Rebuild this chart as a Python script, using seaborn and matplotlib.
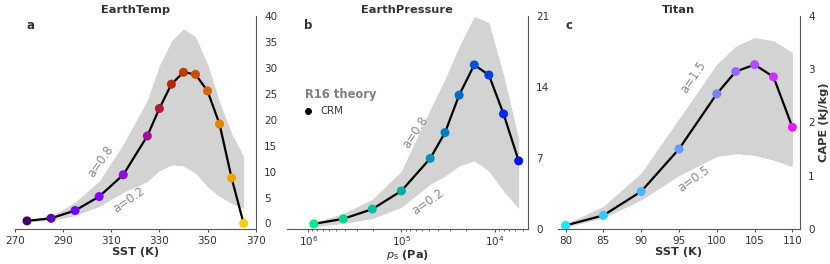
import numpy as np
import matplotlib
matplotlib.use("Agg")
import matplotlib.pyplot as plt
from matplotlib.lines import Line2D
import seaborn as sns

# ─────────────────────────────────────────────
# data
# ─────────────────────────────────────────────

# a: EarthTemp
sst_a = [275, 285, 295, 305, 315, 325, 330, 335, 340, 345, 350, 355, 360, 365]
cape_a = [0.5, 1.0, 2.5, 5.2, 9.4, 16.9, 22.2, 26.9, 29.2, 28.8, 25.6, 19.2, 8.8, 0.0]
hi_a = [0.5, 1.35, 4.1, 8.2, 15.3, 23.8, 30.5, 35.2, 37.6, 36.1, 30.8, 23.5, 17.4, 13.0]
lo_a = [0.3, 0.6, 1.5, 3.3, 6.0, 8.1, 10.2, 11.3, 11.1, 9.7, 7.1, 5.2, 3.9, 2.9]

# b: EarthPressure
ps_b = [870000, 420000, 205000, 100000, 49000, 34000, 24000, 16500, 11500, 8000, 5500]
cape_b = [0.47, 0.97, 1.93, 3.73, 6.95, 9.5, 13.2, 16.2, 15.2, 11.35, 6.7]
hi_b = [0.6, 1.5, 2.9, 5.7, 11.8, 14.8, 18.0, 21.0, 20.4, 15.2, 8.9]
lo_b = [0.2, 0.5, 1.0, 2.1, 4.4, 5.2, 6.2, 6.7, 5.7, 3.7, 2.0]

# c: Titan
sst_c = [80, 85, 90, 95, 100, 102.5, 105, 107.5, 110]
cape_c = [0.06, 0.25, 0.70, 1.50, 2.54, 2.96, 3.09, 2.86, 1.91]
hi_c = [0.09, 0.42, 1.05, 2.07, 3.1, 3.44, 3.6, 3.54, 3.32]
lo_c = [0.03, 0.2, 0.54, 1.0, 1.36, 1.41, 1.38, 1.29, 1.17]

TXT = "#333333"
SHADE = "#d3d3d3"
ANNOT = "#8a8a8a"

sns.set_style("ticks")
plt.rcParams["font.family"] = ["DejaVu Sans"]
plt.rcParams.update({
    "axes.edgecolor": "#555555",
    "xtick.color": "#555555",
    "ytick.color": "#555555",
    "xtick.labelcolor": TXT,
    "ytick.labelcolor": TXT,
    "xtick.labelsize": 7.5,
    "ytick.labelsize": 7.5,
    "xtick.major.size": 2.5,
    "ytick.major.size": 2.5,
    "xtick.minor.size": 1.5,
    "xtick.major.pad": 2.5,
    "axes.linewidth": 0.8,
})


def panel(ax, x, y, lo, hi, cmap, title, letter):
    n = len(x)
    ax.fill_between(x, lo, hi, color=SHADE, lw=0, zorder=1)
    sns.lineplot(x=x, y=y, color="k", lw=1.6, ax=ax, zorder=2, sort=False)
    sns.scatterplot(x=x, y=y, hue=np.arange(n), palette=sns.color_palette(cmap, n),
                    legend=False, s=42, linewidth=0, zorder=3, ax=ax)
    ax.yaxis.tick_right()
    sns.despine(ax=ax, left=True, right=False)
    ax.set_title(title, fontsize=8.2, fontweight="bold", color=TXT, pad=2.5)
    ax.text(letter[1], 0.955, letter[0], transform=ax.transAxes, fontsize=8.5,
            fontweight="bold", color=TXT, ha="center", va="center")


fig = plt.figure(figsize=(8.3, 2.64), dpi=100)
ax_a = fig.add_axes([0.018, 0.134, 0.290, 0.804])
ax_b = fig.add_axes([0.3458, 0.134, 0.290, 0.804])
ax_c = fig.add_axes([0.6723, 0.134, 0.2915, 0.804])

# a
panel(ax_a, sst_a, cape_a, lo_a, hi_a, "gnuplot", "EarthTemp", ("a", 0.065))
ax_a.set_xlim(270, 370)
ax_a.set_ylim(-1, 40)
ax_a.set_xticks(range(270, 371, 20))
ax_a.set_yticks(range(0, 41, 5))
ax_a.set_xlabel("SST (K)", fontsize=8.2, fontweight="bold", color=TXT, labelpad=1)
ax_a.set_ylabel("")
ax_a.text(305.4, 11.9, "a=0.8", rotation=55, color=ANNOT, fontsize=8.5, ha="center", va="center")
ax_a.text(317.2, 4.6, "a=0.2", rotation=35, color=ANNOT, fontsize=8.5, ha="center", va="center")

# b
panel(ax_b, ps_b, cape_b, lo_b, hi_b, "winter_r", "EarthPressure", ("b", 0.088))
ax_b.set_xscale("log")
ax_b.set_xlim(1.69e6, 4.4e3)
ax_b.set_xticks([1e6, 1e5, 1e4])
ax_b.tick_params(axis="x", which="major", pad=1.5)
ax_b.set_ylim(0, 21)
ax_b.set_yticks([0, 7, 14, 21])
ax_b.set_xlabel(r"$p_\mathrm{s}$ (Pa)", fontsize=8.2, fontweight="bold", color=TXT, labelpad=0)
ax_b.set_ylabel("")
ax_b.text(7.1e4, 9.5, "a=0.8", rotation=56, color=ANNOT, fontsize=8.5, ha="center", va="center")
ax_b.text(5.2e4, 2.6, "a=0.2", rotation=35, color=ANNOT, fontsize=8.5, ha="center", va="center")
crm = Line2D([], [], marker="o", ls="", color="k", markersize=4)
leg = ax_b.legend([crm], ["CRM"], title="R16 theory", loc="center left",
                  bbox_to_anchor=(0.035, 0.595), frameon=False, fontsize=7.3,
                  title_fontproperties={"weight": "bold", "size": 8.3},
                  alignment="left", handlelength=0.7, handletextpad=0.9)
leg.get_title().set_color("#808080")
for t in leg.get_texts():
    t.set_color(TXT)

# c
panel(ax_c, sst_c, cape_c, lo_c, hi_c, "cool", "Titan", ("c", 0.045))
ax_c.set_xlim(79, 111)
ax_c.set_xticks(range(80, 111, 5))
ax_c.set_ylim(0, 4)
ax_c.set_yticks(range(0, 5))
ax_c.set_xlabel("SST (K)", fontsize=8.2, fontweight="bold", color=TXT, labelpad=1)
ax_c.yaxis.set_label_position("right")
ax_c.set_ylabel("CAPE (kJ/kg)", fontsize=8.2, fontweight="bold", color=TXT, labelpad=3)
ax_c.text(96.9, 2.86, "a=1.5", rotation=56, color=ANNOT, fontsize=8.5, ha="center", va="center")
ax_c.text(97.0, 0.94, "a=0.5", rotation=35, color=ANNOT, fontsize=8.5, ha="center", va="center")

fig.savefig("out.png", dpi=100)
